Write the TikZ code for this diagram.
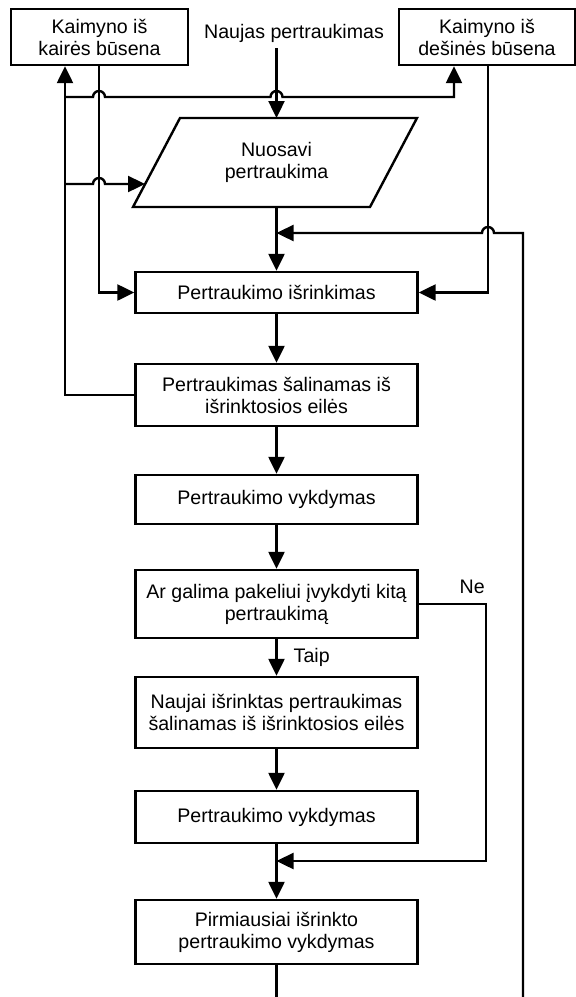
\documentclass[tikz,border=0pt]{standalone}
\usepackage{fontspec}
\setmainfont{Liberation Sans}
\usetikzlibrary{arrows.meta}

\begin{document}
\begin{tikzpicture}[x=1pt, y=-1pt, line width=2.4pt, font=\fontsize{19.6}{22}\selectfont]
	\tikzstyle{box}=[draw, rectangle, align=center, inner sep=0pt]
	\tikzstyle{flow}=[box, minimum width=282pt]
	\tikzstyle{arr}=[-{Triangle[length=17pt,width=16pt]}]
	\tikzstyle{lbl}=[inner sep=0pt]

	\useasboundingbox (0,0) rectangle (576,997);

	\node[box, minimum width=177pt, minimum height=56pt] (leftState) at (99.5,37) {Kaimyno iš\\kairės būsena};
	\node[box, minimum width=176pt, minimum height=56pt] (rightState) at (487,37) {Kaimyno iš\\dešinės būsena};
	\node[lbl, inner sep=5pt, anchor=base] (new) at (294,38) {Naujas pertraukimas};

	\draw (180,118) -- (417,118) -- (370,207) -- (133,207) -- cycle;
	\node[align=center] (own) at (276.5,162.5) {Nuosavi\\pertraukima};
	\coordinate (ownTop) at (276.5,118);
	\coordinate (ownBot) at (276.5,207);
	\coordinate (ownIn) at (145,184);

	\node[flow, minimum height=41pt] (pick) at (276.5,292.5) {Pertraukimo išrinkimas};
	\node[flow, minimum height=62pt] (remove) at (276.5,395) {Pertraukimas šalinamas iš\\išrinktosios eilės};
	\node[flow, minimum height=49pt] (exec) at (276.5,499.5) {Pertraukimo vykdymas};
	\node[flow, minimum height=68pt] (ask) at (276.5,604) {Ar galima pakeliui įvykdyti kitą\\pertraukimą};
	\node[flow, minimum height=71pt] (removeNew) at (276.5,712.5) {Naujai išrinktas pertraukimas\\šalinamas iš išrinktosios eilės};
	\node[flow, minimum height=52pt] (execNew) at (276.5,817) {Pertraukimo vykdymas};
	\node[flow, minimum height=64pt] (execFirst) at (276.5,932) {Pirmiausiai išrinkto\\pertraukimo vykdymas};

	\coordinate (busTop) at (65,97);
	\coordinate (busMid) at (65,184);
	\coordinate (merge) at (276.5,861);
	\coordinate (loopEnd) at (523,997);

	\draw[arr] (new.south -| ownTop) -- (ownTop);
	\draw[arr] (remove.west) -| (leftState.south -| 65,0);
	\draw[arr] (busTop) -- (93,97) arc[start angle=180, end angle=360, radius=6] -- (270.5,97) arc[start angle=180, end angle=360, radius=6] -- (454,97) -- (rightState.south -| 454,0);
	\draw[arr] (busMid) -- (93,184) arc[start angle=180, end angle=360, radius=6] -- (ownIn);
	\draw[arr] (leftState.south -| 99,0) |- (pick.west);
	\draw[arr] (rightState.south -| 488,0) |- (pick.east);
	\draw[arr] (ownBot) -- (pick.north);
	\draw[arr] (loopEnd) -- (523,233) -- (494,233) arc[start angle=0, end angle=-180, radius=6] -- (ownBot |- 0,233);

	\draw[arr] (pick) -- (remove);
	\draw[arr] (remove) -- (exec);
	\draw[arr] (exec) -- (ask);
	\draw[arr] (ask) -- node[lbl, right=16pt] {Taip} (removeNew);
	\draw[arr] (removeNew) -- (execNew);
	\draw[arr] (execNew) -- (execFirst);
	\draw[arr] (ask.east) -- node[lbl, pos=1, anchor=base east, yshift=11pt] {Ne} (ask.east -| 486,0) |- (merge);
	\draw (execFirst.south) -- (execFirst.south |- 0,997);
\end{tikzpicture}
\end{document}
